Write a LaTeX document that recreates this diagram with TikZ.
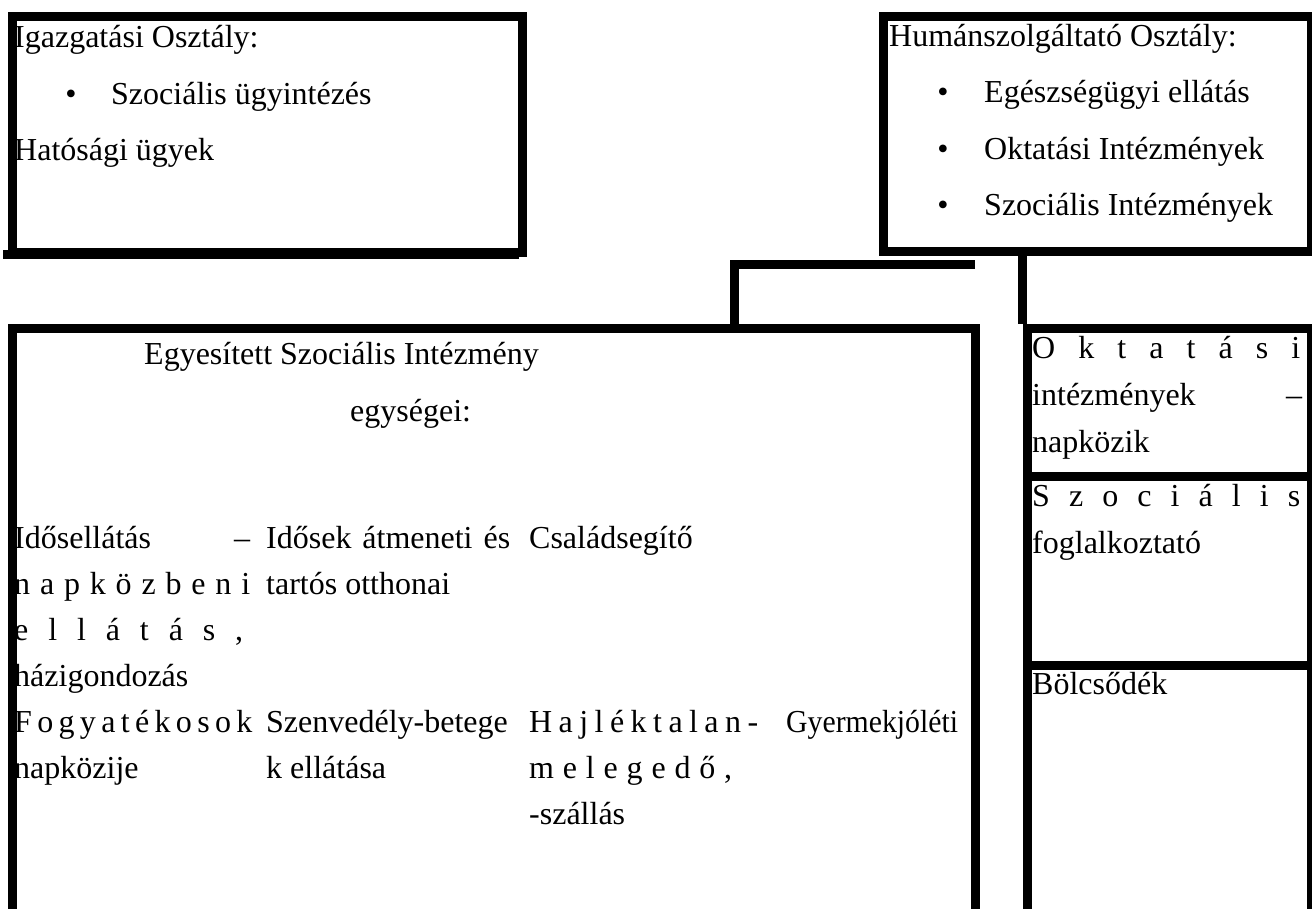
\documentclass[tikz,border=0pt]{standalone}
\usepackage{fontspec}
\setmainfont{Liberation Serif}
\usetikzlibrary{calc}
\begin{document}
\begin{tikzpicture}[x=1pt,y=-1pt,
  frame/.style={draw, line width=9pt, line join=miter, inner sep=0pt, anchor=north west},
  conn/.style={draw, line width=9pt, line join=miter},
  txt/.style={anchor=base west, inner sep=0pt, font=\fontsize{32}{40}\selectfont},
  bul/.style={anchor=base, inner sep=0pt, font=\fontsize{32}{40}\selectfont}]
\useasboundingbox (0,0) rectangle (1312,908);
\begin{scope}
\clip (0,0) rectangle (1312,908);
% boxes
\node[frame, minimum width=510pt, minimum height=236pt] (igaz) at (8,11.5) {};
\fill (3,250) rectangle (519,259);
\node[frame, minimum width=428pt, minimum height=235pt] (hum) at (878.5,11.5) {};
\node[frame, minimum width=963pt, minimum height=606pt] (esz) at (7.5,324) {};
\node[frame, minimum width=284pt, minimum height=147.5pt] (okt) at (1022.5,324) {};
\node[frame, minimum width=284pt, minimum height=189pt] (szoc) at (1022.5,471.5) {};
\node[frame, minimum width=284pt, minimum height=269.5pt] (bolc) at (1022.5,660.5) {};
% connectors
\coordinate (hj) at ([xshift=96.5pt,yshift=-9pt]hum.south west);
\draw[conn] (hj) -| ([xshift=727pt]esz.north west);
\draw[conn] (hum.south -| okt.west) -- (okt.north west);
\end{scope}
% left top text
\node[txt] (t1) at (14,47) {Igazgatási Osztály:};
\node[bul] (b1) at (71,104) {\textbullet};
\node[txt] (t2) at (111,104) {Szociális ügyintézés};
\node[txt] (t3) at (14,160) {Hatósági ügyek};
% right top text
\node[txt] (h1) at (889,46) {Humánszolgáltató Osztály:};
\node[bul] (hb1) at (943,102) {\textbullet};
\node[txt] (h2) at (984,102) {Egészségügyi ellátás};
\node[bul] (hb2) at (943,159) {\textbullet};
\node[txt] (h3) at (984,159) {Oktatási Intézmények};
\node[bul] (hb3) at (943,215) {\textbullet};
\node[txt] (h4) at (984,215) {Szociális Intézmények};
% big box
\node[txt] (e1) at (144,364) {Egyesített Szociális Intézmény};
\node[txt] (e2) at (350,421) {egységei:};
% column 1
\node[txt] (c11) at (14,548) {\makebox[236pt][s]{Idősellátás –}};
\node[txt] (c12) at (14,594) {\makebox[236pt][s]{n a p k ö z b e n i}};
\node[txt] (c13) at (14,640) {\makebox[229pt][s]{e l l á t á s ,}};
\node[txt] (c14) at (14,686) {házigondozás};
\node[txt] (c15) at (14,732) {\makebox[236pt][s]{F o g y a t é k o s o k}};
\node[txt] (c16) at (14,778) {napközije};
% column 2
\node[txt] (c21) at (266,548) {\makebox[244pt][s]{Idősek átmeneti és}};
\node[txt] (c22) at (266,594) {tartós otthonai};
\node[txt] (c25) at (266,732) {Szenvedély-betege};
\node[txt] (c26) at (266,778) {k ellátása};
% column 3
\node[txt] (c31) at (529,548) {Családsegítő};
\node[txt] (c35) at (529,732) {\makebox[229pt][s]{H a j l é k t a l a n -}};
\node[txt] (c36) at (529,778) {\makebox[203pt][s]{m e l e g e d ő ,}};
\node[txt] (c37) at (529,824) {-szállás};
% column 4
\node[txt] (c45) at (786,732) {\scalebox{0.93}[1]{Gyermekjóléti}};
% right column
\node[txt] (r1) at (1032,358) {\makebox[268pt][s]{O k t a t á s i}};
\node[txt] (r2) at (1032,405) {\makebox[270pt][s]{intézmények –}};
\node[txt] (r3) at (1032,452) {napközik};
\node[txt] (r4) at (1032,506) {\makebox[268pt][s]{S z o c i á l i s}};
\node[txt] (r5) at (1032,553) {foglalkoztató};
\node[txt] (r6) at (1032,694) {Bölcsődék};
\end{tikzpicture}
\end{document}
